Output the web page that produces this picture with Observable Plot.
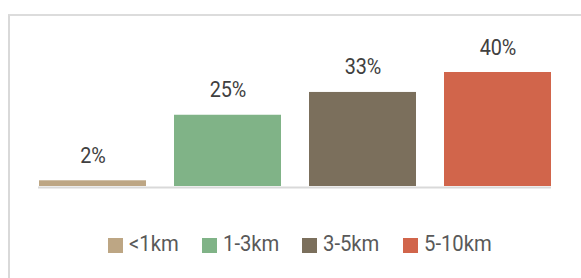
<!DOCTYPE html>
<html>
<head>
<meta charset="utf-8">
<script src="https://cdn.jsdelivr.net/npm/d3@7"></script>
<script src="https://cdn.jsdelivr.net/npm/@observablehq/plot@0.6"></script>
<style>
  html, body { margin: 0; padding: 0; background: #fff; }
  body { width: 581px; height: 278px; position: relative; overflow: hidden;
         font-family: Roboto, sans-serif; }
  #panel { position: absolute; left: 8px; top: 14px; width: 640px; height: 320px;
           border-left: 2px solid #d9d9d9; border-top: 2px solid #dcdcdc; box-sizing: border-box; }
  #chart { position: absolute; left: 0; top: 0; }
  #legend { position: absolute; left: 108px; top: 232px; display: flex; gap: 23px; align-items: center; }
  .item { display: flex; align-items: center; font-size: 22px; color: #595959; line-height: 24px; font-weight: 400; }
  .item span { display: inline-block; transform: scaleX(0.92); transform-origin: left center; white-space: nowrap; }
  .sw { width: 15px; height: 15px; margin-right: 6px; margin-top: 2px; flex: none; }
</style>
</head>
<body>
<div id="panel"></div>
<div id="chart"></div>
<div id="legend"></div>
<script>
const categories = ["<1km", "1-3km", "3-5km", "5-10km"];
const values = [2, 25, 33, 40];
const labels = ["2%", "25%", "33%", "40%"];
const colors = ["#bda684", "#80b387", "#7b6f5c", "#d1654b"];

const data = categories.map((c, i) => ({cat: c, value: values[i], label: labels[i]}));

const plot = Plot.plot({
  width: 581,
  height: 200,
  marginLeft: 38,
  marginRight: 30,
  marginTop: 0,
  marginBottom: 14,
  style: {background: "transparent", fontFamily: "Roboto, sans-serif", overflow: "visible"},
  x: {domain: categories, paddingInner: 0.2094, paddingOuter: 0, axis: null},
  y: {domain: [0, 40], range: [186, 72], axis: null},
  color: {domain: categories, range: colors},
  marks: [
    Plot.barY(data, {x: "cat", y: "value", fill: "cat"}),
    Plot.ruleY([0], {stroke: "#d9d9d9", strokeWidth: 2, dy: 1}),
    Plot.text(data, {x: "cat", y: "value", text: "label", dy: -18, lineAnchor: "bottom",
      fontSize: 22, fill: "#404040", className: "vlabel"})
  ]
});
// squeeze the value labels horizontally (condensed look)
plot.querySelectorAll("text").forEach(t => {
  const tr = t.getAttribute("transform") || "";
  t.setAttribute("transform", tr + " scale(0.9,1)");
});
document.getElementById("chart").appendChild(plot);

const legend = document.getElementById("legend");
const spans = [];
categories.forEach((c, i) => {
  const item = document.createElement("div");
  item.className = "item";
  const sw = document.createElement("div");
  sw.className = "sw";
  sw.style.background = colors[i];
  const t = document.createElement("span");
  t.textContent = c;
  item.appendChild(sw);
  item.appendChild(t);
  legend.appendChild(item);
  spans.push(t);
});
spans.forEach(s => {
  const w = s.getBoundingClientRect().width;
  const full = s.offsetWidth;
  s.style.marginRight = (w - full) + "px";
});
</script>
</body>
</html>
